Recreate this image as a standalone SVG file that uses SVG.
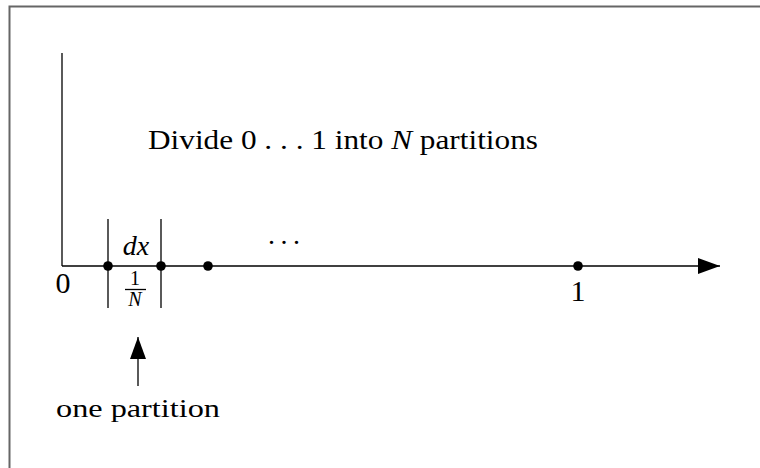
<svg xmlns="http://www.w3.org/2000/svg" width="760" height="468" viewBox="0 0 760 468">
<style>
.ln{stroke:#000;stroke-width:1.3;fill:none}
.t{font-family:"Liberation Serif","Times New Roman",serif;fill:#000}
.i{font-style:italic}
.dot{fill:#000}
</style>
<defs>
<marker id="ahb" viewBox="0 0 22 16" refX="22" refY="8" markerWidth="22" markerHeight="16" markerUnits="userSpaceOnUse" orient="auto">
<path d="M0,0 L22,8 L0,16 z" fill="#000"/>
</marker>
</defs>
<rect width="760" height="468" fill="#fff"/>
<g id="frame"><path d="M9.5,468 V6.5 H760" stroke="#666" stroke-width="2" fill="none"/></g>
<g id="connectors">
<path class="ln" d="M62,53 V266"/>
<path class="ln" d="M62,266 H720" marker-end="url(#ahb)"/>
<path class="ln" d="M108,219 V308"/>
<path class="ln" d="M161,219 V308"/>
<path class="ln" d="M138,386 V337" marker-end="url(#ahb)"/>
</g>
<g id="points">
<circle class="dot" cx="108" cy="266" r="4.8"/>
<circle class="dot" cx="161" cy="266" r="4.8"/>
<circle class="dot" cx="208" cy="266" r="4.8"/>
<circle class="dot" cx="578" cy="266" r="4.8"/>
</g>
<g id="labels">
<text class="t" x="148" y="149" font-size="27" textLength="390" lengthAdjust="spacingAndGlyphs">Divide 0 . . . 1 into <tspan class="i">N</tspan> partitions</text>
<text class="t" x="284" y="244" font-size="28" text-anchor="middle" textLength="32" lengthAdjust="spacing">...</text>
<text class="t i" x="136" y="255" font-size="28" text-anchor="middle">dx</text>
<text class="t" x="135" y="285" font-size="20" text-anchor="middle">1</text>
<path class="ln" d="M125,289.5 H146" stroke-width="1"/>
<text class="t i" x="135" y="306" font-size="20" text-anchor="middle">N</text>
<text class="t" x="63" y="293" font-size="30" text-anchor="middle">0</text>
<text class="t" x="578" y="301" font-size="30" text-anchor="middle">1</text>
<text class="t" x="56" y="417" font-size="26" textLength="164" lengthAdjust="spacingAndGlyphs">one partition</text>
</g>
</svg>
